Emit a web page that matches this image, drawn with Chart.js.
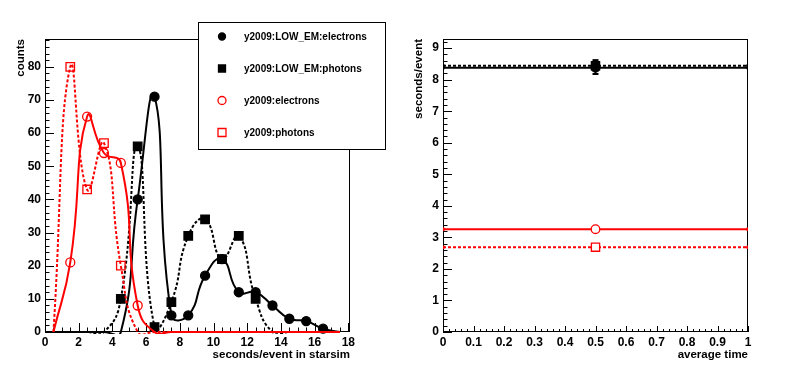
<!DOCTYPE html>
<html>
<head>
<meta charset="utf-8">
<script src="https://cdn.jsdelivr.net/npm/chart.js@4.4.1/dist/chart.umd.min.js"></script>
<style>
body{margin:0;background:#fff;}
#wrap{position:relative;width:796px;height:374px;}
canvas{position:absolute;top:0;}
#left{left:0;}
#right{left:396px;}
</style>
</head>
<body>
<div id="wrap">
<canvas id="left" width="396" height="374"></canvas>
<canvas id="right" width="400" height="374"></canvas>
</div>
<script>
// ---- left panel: counts per bin of seconds/event ----
const binCentres=[0.5,1.5,2.5,3.5,4.5,5.5,6.5,7.5,8.5,9.5,10.5,11.5,12.5,13.5,14.5,15.5,16.5,17.5];
const lowEmElectrons=[0,0,0,0,0,40,71,5,5,17,22,12,12,8,4,3.3,1,0];
const lowEmPhotons=[0,0,0,0,10,56,1.5,9,29,34,22,29,10,0,0,0,0,0];
const electrons=[0,21,65,54,51,8,0,0,0,0,0,0,0,0,0,0,0,0];
const photons=[0,80,43,57,20,0,0,0,0,0,0,0,0,0,0,0,0,0];
const seriesNames=["y2009:LOW_EM:electrons","y2009:LOW_EM:photons","y2009:electrons","y2009:photons"];

const leftXTicks=[0,2,4,6,8,10,12,14,16,18];
const leftYTicks=[0,10,20,30,40,50,60,70,80];

// ---- right panel: average time ----
const avgX=[0,0.5,1];
const avgLowEmElectrons=8.38;
const avgLowEmPhotons=8.44;
const avgElectrons=3.26;
const avgPhotons=2.69;
const lowEmElectronsErr=[8.18,8.62];

const rightXTicks=[0,0.1,0.2,0.3,0.4,0.5,0.6,0.7,0.8,0.9,1];
const rightXLabels=["0","0.1","0.2","0.3","0.4","0.5","0.6","0.7","0.8","0.9","1"];
const rightYTicks=[0,1,2,3,4,5,6,7,8,9];

Chart.defaults.font.family="'Liberation Sans', Arial, sans-serif";
Chart.defaults.font.weight="bold";
Chart.defaults.color="#000";

const RED="#ff0000", BLACK="#000000";

// frame + inward ROOT-like ticks, drawn under the graphs
function frameTicks(xMajor,xMinor,yMajor,yMinor,xLen,yLen){
  return {
    id:"frameTicks",
    beforeDatasetsDraw(chart){
      const ctx=chart.ctx, a=chart.chartArea;
      const xs=chart.scales.x, ys=chart.scales.y;
      ctx.save();
      ctx.strokeStyle="#000";
      ctx.lineWidth=1;
      ctx.strokeRect(a.left+0.5,a.top+0.5,a.right-a.left-1,a.bottom-a.top-1);
      ctx.beginPath();
      for(let i=0;;i++){
        const v=xs.min+i*xMinor;
        if(v>xs.max+1e-9) break;
        const major=Math.abs(v/xMajor-Math.round(v/xMajor))<1e-6;
        const px=Math.round(xs.getPixelForValue(v))+0.5;
        ctx.moveTo(px,a.bottom);
        ctx.lineTo(px,a.bottom-(major?xLen[0]:xLen[1]));
      }
      for(let i=0;;i++){
        const v=ys.min+i*yMinor;
        if(v>ys.max+1e-9) break;
        const major=Math.abs(v/yMajor-Math.round(v/yMajor))<1e-6;
        const py=Math.round(ys.getPixelForValue(v))+0.5;
        ctx.moveTo(a.left,py);
        ctx.lineTo(a.left+(major?yLen[0]:yLen[1]),py);
      }
      ctx.stroke();
      ctx.restore();
    }
  };
}

function drawMarker(ctx,style,x,y,r,fill,stroke){
  ctx.beginPath();
  if(style==="circle") ctx.arc(x,y,r,0,Math.PI*2);
  else ctx.rect(x-r,y-r,2*r,2*r);
  if(fill){ctx.fillStyle=fill;ctx.fill();}
  ctx.strokeStyle=stroke;ctx.lineWidth=1.3;ctx.stroke();
}

const boxLegend={
  id:"boxLegend",
  afterDraw(chart){
    const ctx=chart.ctx;
    ctx.save();
    ctx.fillStyle="#fff";
    ctx.fillRect(198,22,187,127);
    ctx.strokeStyle="#000";
    ctx.lineWidth=1;
    ctx.strokeRect(198.5,22.5,187,127);
    const rows=[36.5,68.5,100.5,132.5];
    ctx.font="bold 10px 'Liberation Sans', Arial, sans-serif";
    ctx.textBaseline="middle";
    chart.data.datasets.forEach((d,i)=>{
      const filled=d.pointBackgroundColor!=="rgba(0,0,0,0)";
      drawMarker(ctx,d.pointStyle,222,rows[i],filled?3.5:4,filled?d.borderColor:null,d.borderColor);
      ctx.fillStyle="#000";
      ctx.fillText(d.label,244,rows[i]+0.5);
    });
    ctx.restore();
  }
};

function binSet(label,ys,color,style,filled,dashed,order){
  const r=style==="circle"?4.5:6;
  return {
    label,
    data:binCentres.map((x,i)=>({x,y:ys[i]})),
    borderColor:color,
    borderWidth:2,
    borderDash:dashed?[3,2]:[],
    pointStyle:style,
    pointBackgroundColor:filled?color:"rgba(0,0,0,0)",
    pointBorderColor:color,
    pointBorderWidth:1.3,
    pointRadius:c=>(c.raw&&c.raw.y>0)?r:0,
    tension:0.5,
    clip:{left:1,top:1,right:1,bottom:2},
    order
  };
}

function axisTitle(text,pad){
  return {display:true,text,align:"end",font:{size:11.5,weight:"bold"},padding:pad};
}

const noGrid={display:false,drawTicks:false};

new Chart(document.getElementById("left"),{
  type:"line",
  data:{
    datasets:[
      binSet(seriesNames[0],lowEmElectrons,BLACK,"circle",true,false,4),
      binSet(seriesNames[1],lowEmPhotons,BLACK,"rect",true,true,3),
      binSet(seriesNames[2],electrons,RED,"circle",false,false,2),
      binSet(seriesNames[3],photons,RED,"rect",false,true,1)
    ]
  },
  options:{
    responsive:false,
    animation:false,
    events:[],
    layout:{padding:{left:0,top:39,right:46,bottom:0}},
    elements:{line:{capBezierPoints:false}},
    plugins:{legend:{display:false},tooltip:{enabled:false}},
    scales:{
      x:{
        type:"linear",min:0,max:18.1,
        grid:noGrid,border:{display:false},
        afterBuildTicks:s=>{s.ticks=leftXTicks.map(v=>({value:v}));},
        afterFit:s=>{s.height=42;},
        ticks:{font:{size:12,weight:"bold"},padding:3,maxRotation:0,autoSkip:false,callback:v=>String(v)},
        title:axisTitle("seconds/event in starsim",{top:0,bottom:12})
      },
      y:{
        type:"linear",min:0,max:88.4,
        grid:noGrid,border:{display:false},
        afterBuildTicks:s=>{s.ticks=leftYTicks.map(v=>({value:v}));},
        afterFit:s=>{s.width=45;},
        ticks:{font:{size:12,weight:"bold"},padding:4,autoSkip:false,callback:v=>String(v)},
        title:axisTitle("counts",{top:14,bottom:0})
      }
    }
  },
  plugins:[frameTicks(2,0.5,10,2,[9,4.5],[9,4.5]),boxLegend]
});

function avgSet(value,color,style,filled,dashed,fillMid){
  const r=style==="circle"?4.3:5.8;
  return {
    data:avgX.map(x=>({x,y:value})),
    borderColor:color,
    borderWidth:2,
    borderDash:dashed?[3,2]:[],
    pointStyle:avgX.map(x=>x===0.5?style:"circle"),
    pointBackgroundColor:avgX.map(x=>x===0.5?(filled?color:fillMid):color),
    pointBorderColor:color,
    pointBorderWidth:1.3,
    pointRadius:avgX.map(x=>x===0.5?r:1.3),
    tension:0
  };
}

new Chart(document.getElementById("right"),{
  type:"line",
  data:{
    datasets:[
      avgSet(avgLowEmElectrons,BLACK,"circle",true,false),
      avgSet(avgLowEmPhotons,BLACK,"rect",true,true),
      avgSet(avgElectrons,RED,"circle",false,false,"#fff"),
      avgSet(avgPhotons,RED,"rect",false,true,"#fff"),
      {
        data:lowEmElectronsErr.map(y=>({x:0.5,y})),
        borderColor:BLACK,borderWidth:2,
        pointStyle:"line",pointRadius:3,pointBorderColor:BLACK,pointBorderWidth:2
      }
    ]
  },
  options:{
    responsive:false,
    animation:false,
    events:[],
    layout:{padding:{left:0,top:39,right:48,bottom:0}},
    plugins:{legend:{display:false},tooltip:{enabled:false}},
    scales:{
      x:{
        type:"linear",min:0,max:1,
        grid:noGrid,border:{display:false},
        afterBuildTicks:s=>{s.ticks=rightXTicks.map(v=>({value:v}));},
        afterFit:s=>{s.height=42;},
        ticks:{font:{size:12,weight:"bold"},padding:3,maxRotation:0,autoSkip:false,
          callback:(v,i)=>rightXLabels[i]},
        title:axisTitle("average time",{top:0,bottom:12})
      },
      y:{
        type:"linear",min:0,max:9.29,
        grid:noGrid,border:{display:false},
        afterBuildTicks:s=>{s.ticks=rightYTicks.map(v=>({value:v}));},
        afterFit:s=>{s.width=47;},
        ticks:{font:{size:12,weight:"bold"},padding:4,autoSkip:false,callback:v=>String(v)},
        title:axisTitle("seconds/event",{top:16,bottom:0})
      }
    }
  },
  plugins:[frameTicks(0.1,0.02,1,0.2,[6,3],[9,4.5])]
});
</script>
</body>
</html>
